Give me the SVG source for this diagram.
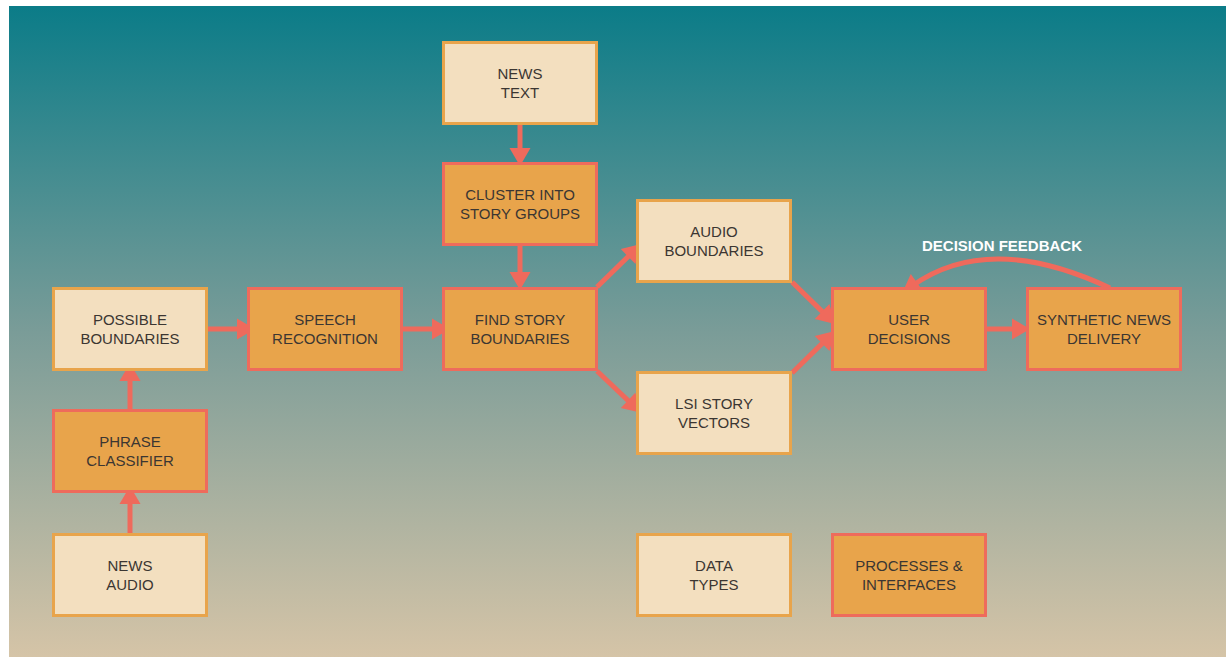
<svg xmlns="http://www.w3.org/2000/svg" width="1226" height="660" viewBox="0 0 1226 660">
  <defs>
    <linearGradient id="bg" x1="0" y1="0" x2="0" y2="1">
      <stop offset="0" stop-color="#0b7c88"/>
      <stop offset="0.5" stop-color="#7a9c98"/>
      <stop offset="1" stop-color="#d5c4a7"/>
    </linearGradient>
    <marker id="ah" markerUnits="userSpaceOnUse" markerWidth="18" markerHeight="21" refX="6" refY="10.5" orient="auto" overflow="visible">
      <path d="M0,0 L18,10.5 L0,21 Z" fill="#ef6a5c"/>
    </marker>
  </defs>
  <style>
    .data rect { fill: #f3dfbf; stroke: #e8a44b; stroke-width: 3; }
    .proc rect { fill: #e8a44b; stroke: #ee6b5c; stroke-width: 3; }
    .node text { font-family: "Liberation Sans", Arial, sans-serif; font-size: 15px; fill: #3b3632; text-anchor: middle; }
    .conn { fill: none; stroke: #ef6a5c; stroke-width: 5; marker-end: url(#ah); }
    .label { font-family: "Liberation Sans", Arial, sans-serif; font-size: 15px; font-weight: bold; fill: #ffffff; text-anchor: middle; }
  </style>
  <rect x="9" y="6" width="1217" height="651" fill="url(#bg)"/>

  <g id="connectors">
    <path class="conn" d="M520,124 L520,154"/>
    <path class="conn" d="M520,246 L520,278"/>
    <path class="conn" d="M208,329 L243,329"/>
    <path class="conn" d="M403,329 L438,329"/>
    <path class="conn" d="M987,329 L1018,329"/>
    <path class="conn" d="M130,409 L130,375"/>
    <path class="conn" d="M130,533 L130,498"/>
    <path class="conn" d="M597,287 L632.4,252.4"/>
    <path class="conn" d="M597,371 L632.4,404.6"/>
    <path class="conn" d="M792,282 L826.4,315.6"/>
    <path class="conn" d="M792,373 L826.4,339.4"/>
    <path class="conn" d="M1110,288 Q989,231 912,286"/>
  </g>

  <text class="label" x="1002" y="251">DECISION FEEDBACK</text>

  <g id="news-text" class="node data">
    <rect x="443.5" y="42.5" width="153" height="81"/>
    <text x="520" y="79">NEWS</text><text x="520" y="97.5">TEXT</text>
  </g>
  <g id="cluster" class="node proc">
    <rect x="443.5" y="163.5" width="153" height="81"/>
    <text x="520" y="200">CLUSTER INTO</text><text x="520" y="218.5">STORY GROUPS</text>
  </g>
  <g id="possible-boundaries" class="node data">
    <rect x="53.5" y="288.5" width="153" height="81"/>
    <text x="130" y="325">POSSIBLE</text><text x="130" y="343.5">BOUNDARIES</text>
  </g>
  <g id="speech-recognition" class="node proc">
    <rect x="248.5" y="288.5" width="153" height="81"/>
    <text x="325" y="325">SPEECH</text><text x="325" y="343.5">RECOGNITION</text>
  </g>
  <g id="find-story-boundaries" class="node proc">
    <rect x="443.5" y="288.5" width="153" height="81"/>
    <text x="520" y="325">FIND STORY</text><text x="520" y="343.5">BOUNDARIES</text>
  </g>
  <g id="audio-boundaries" class="node data">
    <rect x="637.5" y="200.5" width="153" height="81"/>
    <text x="714" y="237">AUDIO</text><text x="714" y="255.5">BOUNDARIES</text>
  </g>
  <g id="lsi-story-vectors" class="node data">
    <rect x="637.5" y="372.5" width="153" height="81"/>
    <text x="714" y="409">LSI STORY</text><text x="714" y="427.5">VECTORS</text>
  </g>
  <g id="user-decisions" class="node proc">
    <rect x="832.5" y="288.5" width="153" height="81"/>
    <text x="909" y="325">USER</text><text x="909" y="343.5">DECISIONS</text>
  </g>
  <g id="synthetic-news-delivery" class="node proc">
    <rect x="1027.5" y="288.5" width="153" height="81"/>
    <text x="1104" y="325">SYNTHETIC NEWS</text><text x="1104" y="343.5">DELIVERY</text>
  </g>
  <g id="phrase-classifier" class="node proc">
    <rect x="53.5" y="410.5" width="153" height="81"/>
    <text x="130" y="447">PHRASE</text><text x="130" y="465.5">CLASSIFIER</text>
  </g>
  <g id="news-audio" class="node data">
    <rect x="53.5" y="534.5" width="153" height="81"/>
    <text x="130" y="571">NEWS</text><text x="130" y="589.5">AUDIO</text>
  </g>
  <g id="legend-data-types" class="node data">
    <rect x="637.5" y="534.5" width="153" height="81"/>
    <text x="714" y="571">DATA</text><text x="714" y="589.5">TYPES</text>
  </g>
  <g id="legend-processes" class="node proc">
    <rect x="832.5" y="534.5" width="153" height="81"/>
    <text x="909" y="571">PROCESSES &amp;</text><text x="909" y="589.5">INTERFACES</text>
  </g>
</svg>
